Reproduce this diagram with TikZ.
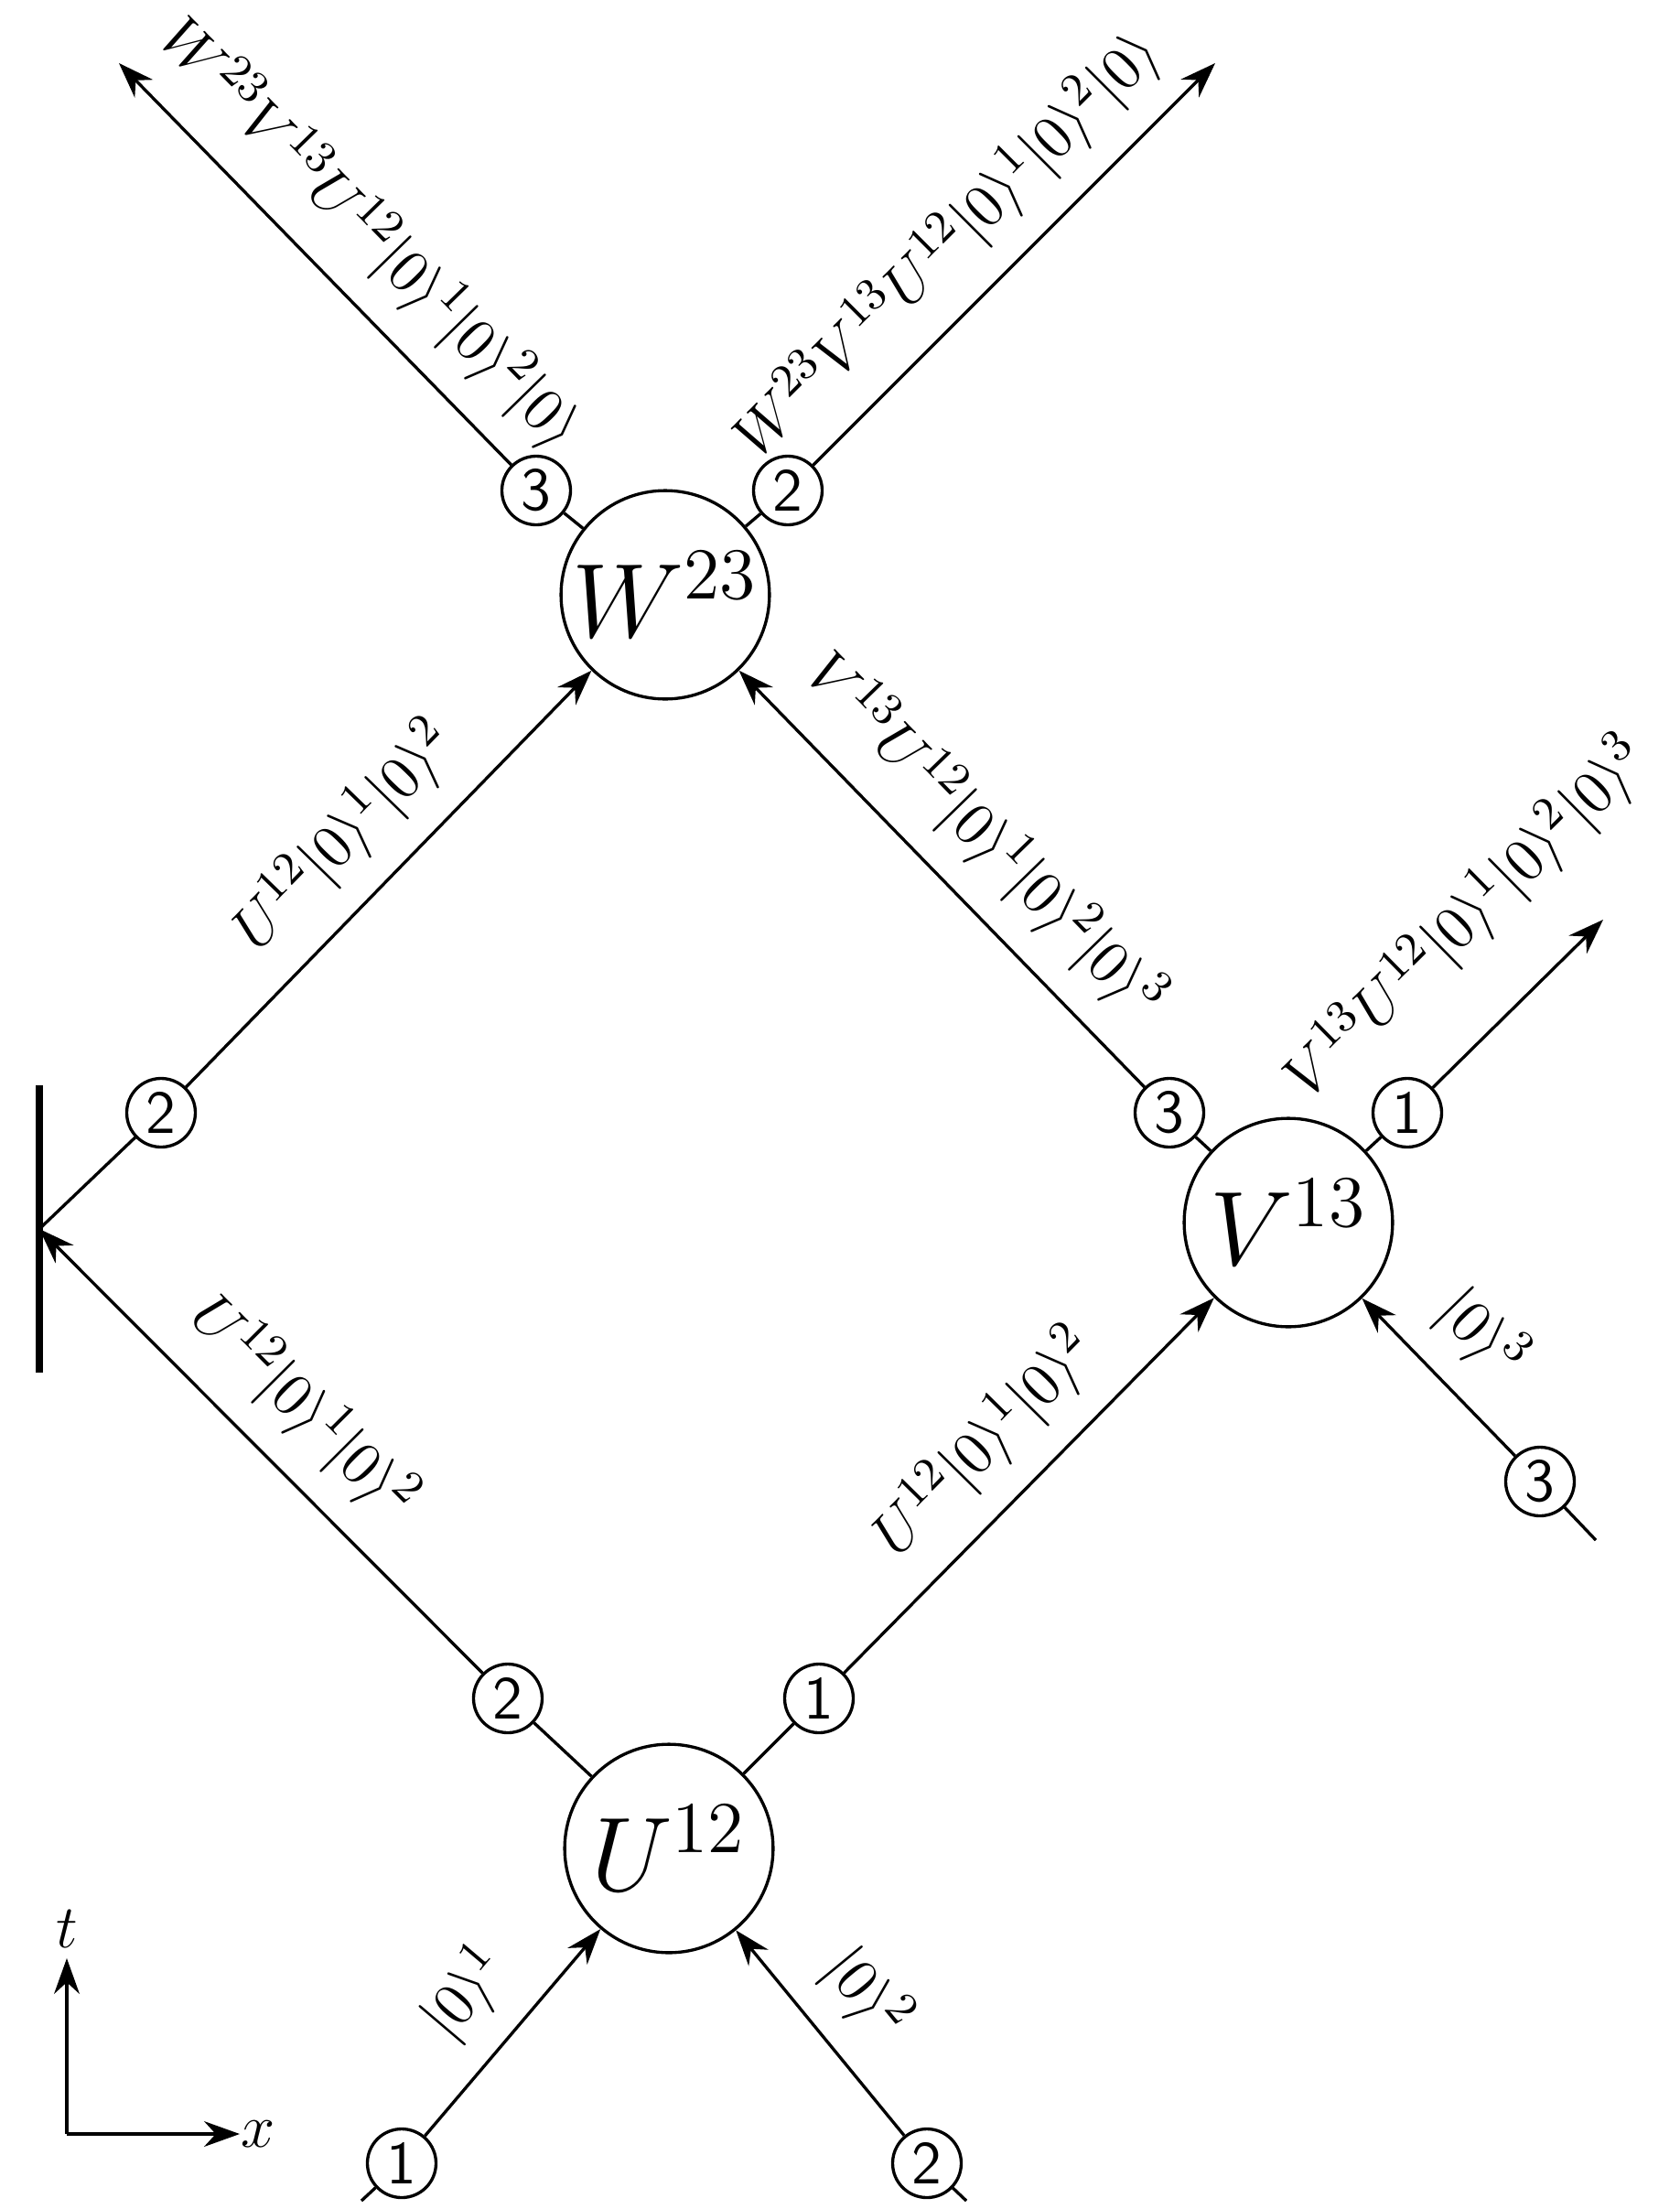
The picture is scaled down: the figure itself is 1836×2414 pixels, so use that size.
\documentclass[tikz,border=0pt]{standalone}
\usetikzlibrary{arrows.meta}
\newcommand{\kz}{|0\rangle}
\begin{document}
\begin{tikzpicture}[x=0.18pt,y=-0.18pt,
  big/.style={draw,circle,minimum size=41pt,inner sep=0pt,font=\huge,line width=0.6pt},
  sm/.style={draw,circle,minimum size=13.5pt,inner sep=0pt,font=\sffamily\fontsize{12}{14}\selectfont,line width=0.6pt},
  ln/.style={line width=0.6pt},
  arr/.style={line width=0.6pt,-{Stealth[length=7pt,width=5pt]}},
  lab/.style={sloped,above=4pt,font=\fontsize{12.8}{15}\selectfont,inner sep=1pt}]
\useasboundingbox (0,0) rectangle (1836,2414);
\node[big] (U) at (731,2020) {$U^{12}$};
\node[big] (V) at (1408,1336) {$V^{13}$};
\node[big] (W) at (727,650) {$W^{23}$};
\coordinate (wp) at (43,1343);
\draw[line width=1.6pt] (43,1186) -- (43,1500);
\node[sm] (u2) at (555,1856) {2};
\node[sm] (u1) at (895,1856) {1};
\node[sm] (w2) at (176,1216) {2};
\node[sm] (v3) at (1278,1216) {3};
\node[sm] (v1) at (1538,1216) {1};
\node[sm] (vi) at (1683,1619) {3};
\node[sm] (w3) at (586,536) {3};
\node[sm] (ww) at (861,536) {2};
\node[sm] (i1) at (439,2364) {1};
\node[sm] (i2) at (1013,2364) {2};
\coordinate (e1) at (395,2405);
\coordinate (e2) at (1056,2405);
\coordinate (e3) at (1744,1683);
\coordinate (tl) at (130,69);
\coordinate (tr) at (1328,69);
\coordinate (vo) at (1752,1005);
% inputs
\draw[ln] (e1) -- (i1);
\draw[arr] (i1) -- node[lab]{$\kz^1$} (U);
\draw[ln] (e2) -- (i2);
\draw[arr] (i2) -- node[lab]{$\kz^2$} (U);
\draw[ln] (e3) -- (vi);
\draw[arr] (vi) -- node[lab]{$\kz^3$} (V);
% U outputs
\draw[ln] (U) -- (u2);
\draw[arr] (u2) -- node[lab]{$U^{12}\kz^1\kz^2$} (wp);
\draw[ln] (U) -- (u1);
\draw[arr] (u1) -- node[lab]{$U^{12}\kz^1\kz^2$} (V);
% wall
\draw[ln] (wp) -- (w2);
\draw[arr] (w2) -- node[lab]{$U^{12}\kz^1\kz^2$} (W);
% V outputs
\draw[ln] (V) -- (v3);
\draw[arr] (v3) -- node[lab]{$V^{13}U^{12}\kz^1\kz^2\kz^3$} (W);
\draw[ln] (V) -- (v1);
\draw[arr] (v1) -- node[lab,pos=0.6,above=7pt]{$V^{13}U^{12}\kz^1\kz^2\kz^3$} (vo);
% W outputs
\draw[ln] (W) -- (w3);
\draw[arr] (w3) -- node[lab,pos=0.47]{$W^{23}V^{13}U^{12}\kz^1\kz^2\kz$} (tl);
\draw[ln] (W) -- (ww);
\draw[arr] (ww) -- node[lab,pos=0.44]{$W^{23}V^{13}U^{12}\kz^1\kz^2\kz$} (tr);
% axes
\coordinate (o) at (73,2332);
\coordinate (ta) at (73,2140);
\coordinate (xa) at (262,2332);
\draw[arr] (o) -- (ta);
\draw[arr] (o) -- (xa);
\node[font=\large] (tt) at (73,2108) {$t$};
\node[font=\large] (xx) at (282,2332) {$x$};
\end{tikzpicture}
\end{document}
